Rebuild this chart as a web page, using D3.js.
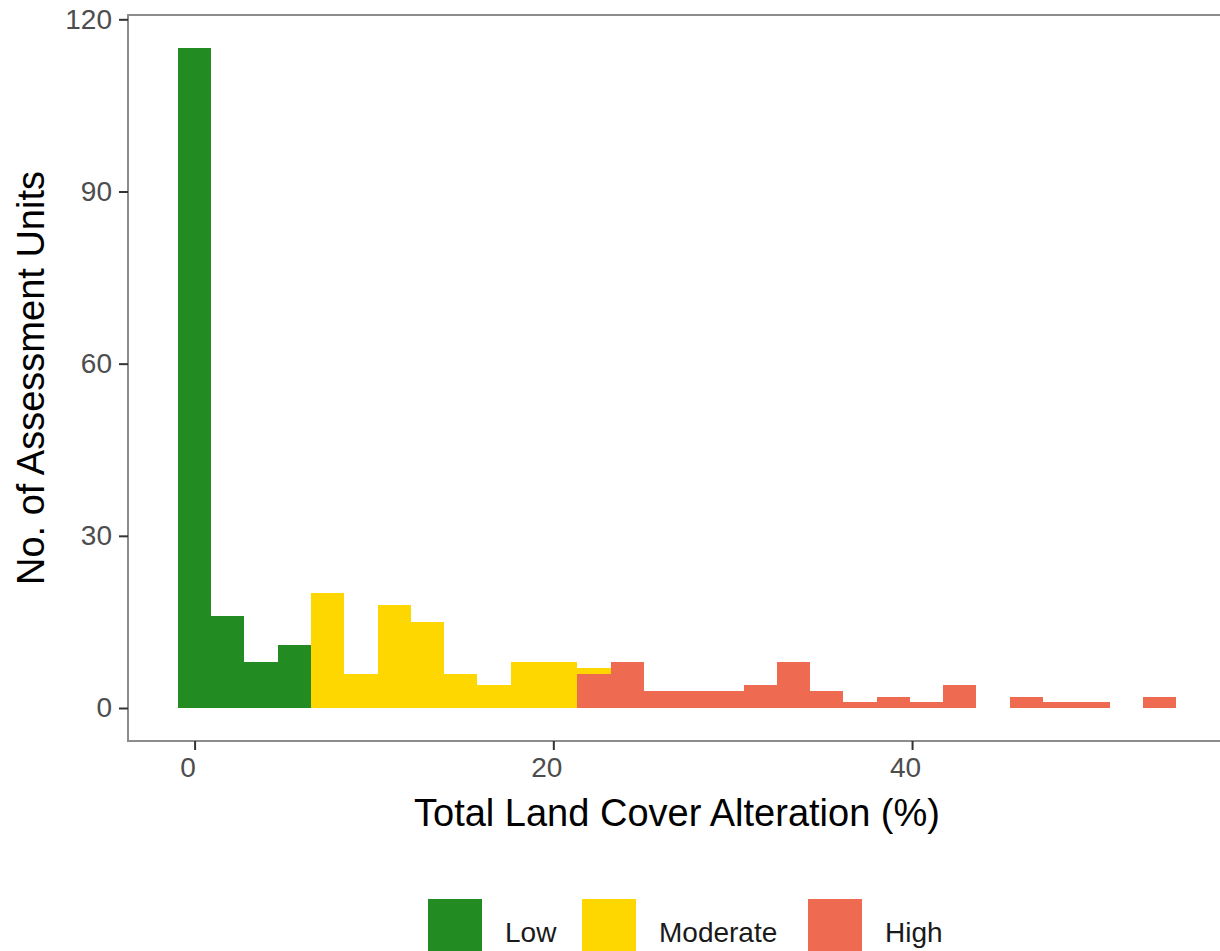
<!DOCTYPE html>
<html>
<head>
<meta charset="utf-8">
<script src="https://cdn.jsdelivr.net/npm/d3@7"></script>
<style>
  html, body { margin: 0; padding: 0; background: #fff; }
  svg { display: block; font-family: "Liberation Sans", Arial, Helvetica, sans-serif; }
</style>
</head>
<body>
<svg id="chart" width="1220" height="951"></svg>
<script>
// ---- data ----
const binEdges = [-0.93, 0.93, 2.78, 4.64, 6.49, 8.35, 10.20, 12.06, 13.91, 15.77,
                  17.62, 19.48, 21.33, 23.19, 25.04, 26.90, 28.75, 30.61, 32.46, 34.32,
                  36.17, 38.03, 39.88, 41.74, 43.59, 45.45, 47.30, 49.16, 51.01, 52.87, 54.72];
const lowCounts      = [115, 16, 8, 11, 0, 0, 0, 0, 0, 0, 0, 0, 0, 0, 0, 0, 0, 0, 0, 0, 0, 0, 0, 0, 0, 0, 0, 0, 0, 0];
const moderateCounts = [0, 0, 0, 0, 20, 6, 18, 15, 6, 4, 8, 8, 1, 0, 0, 0, 0, 0, 0, 0, 0, 0, 0, 0, 0, 0, 0, 0, 0, 0];
const highCounts     = [0, 0, 0, 0, 0, 0, 0, 0, 0, 0, 0, 0, 6, 8, 3, 3, 3, 4, 8, 3, 1, 2, 1, 4, 0, 2, 1, 1, 0, 2];
const categories = ["Low", "Moderate", "High"];
const categoryColors = ["#228B22", "#FFD700", "#EE6A50"];
const xTicks = [0, 20, 40];
const yTicks = [0, 30, 60, 90, 120];
const xTitle = "Total Land Cover Alteration (%)";
const yTitle = "No. of Assessment Units";

// ---- build table ----
const rows = binEdges.slice(0, -1).map((x0, i) => ({
  x0: x0, x1: binEdges[i + 1],
  Low: lowCounts[i], Moderate: moderateCounts[i], High: highCounts[i]
}));
const stackKeys = ["High", "Moderate", "Low"]; // High at the bottom, Low on top
const stacked = d3.stack().keys(stackKeys)(rows);
const color = d3.scaleOrdinal().domain(categories).range(categoryColors);

// ---- layout ----
const svg = d3.select("#chart");
const panel = { left: 128, top: 15, right: 1226, bottom: 741 };

const xMin = binEdges[0], xMax = binEdges[binEdges.length - 1];
const xPad = (xMax - xMin) * 0.05;
const x = d3.scaleLinear().domain([xMin - xPad, xMax + xPad]).range([panel.left, panel.right]);

const yMax = d3.max(rows, d => d.Low + d.Moderate + d.High);
const yPad = yMax * 0.05;
const y = d3.scaleLinear().domain([-yPad, yMax + yPad]).range([panel.bottom, panel.top]);

// bars
svg.append("g").selectAll("g")
  .data(stacked).join("g")
  .attr("fill", s => color(s.key))
  .selectAll("rect")
  .data(s => s.filter(d => d[1] - d[0] > 0))
  .join("rect")
  .attr("x", d => x(d.data.x0))
  .attr("width", d => x(d.data.x1) - x(d.data.x0))
  .attr("y", d => y(d[1]))
  .attr("height", d => y(d[0]) - y(d[1]))
  .attr("shape-rendering", "crispEdges");

// panel border
svg.append("rect")
  .attr("x", panel.left).attr("y", panel.top)
  .attr("width", panel.right - panel.left).attr("height", panel.bottom - panel.top)
  .attr("fill", "none").attr("stroke", "#8c8c8c").attr("stroke-width", 2);

// axes
const xAxis = d3.axisBottom(x).tickValues(xTicks).tickSize(9).tickPadding(7).tickFormat(d3.format("d"));
const gx = svg.append("g").attr("transform", `translate(0,${panel.bottom})`).call(xAxis);
gx.select(".domain").remove();
gx.selectAll(".tick line").attr("stroke", "#333").attr("stroke-width", 2);
gx.selectAll(".tick text").attr("fill", "#4d4d4d").attr("font-size", 28)
  .attr("font-family", "Liberation Sans, Arial, sans-serif").attr("dx", -7);

const yAxis = d3.axisLeft(y).tickValues(yTicks).tickSize(9).tickPadding(7).tickFormat(d3.format("d"));
const gy = svg.append("g").attr("transform", `translate(${panel.left},0)`).call(yAxis);
gy.select(".domain").remove();
gy.selectAll(".tick line").attr("stroke", "#333").attr("stroke-width", 2);
gy.selectAll(".tick text").attr("fill", "#4d4d4d").attr("font-size", 28)
  .attr("font-family", "Liberation Sans, Arial, sans-serif");

// titles
svg.append("text")
  .attr("x", (panel.left + panel.right) / 2).attr("y", 826)
  .attr("text-anchor", "middle").attr("font-size", 38).attr("fill", "#000")
  .text(xTitle);

svg.append("text")
  .attr("transform", `translate(44,${(panel.top + panel.bottom) / 2}) rotate(-90)`)
  .attr("text-anchor", "middle").attr("font-size", 38).attr("fill", "#000")
  .text(yTitle);

// legend
const legendKeyX = [428, 582, 808];
const legend = svg.append("g");
categories.forEach((c, i) => {
  legend.append("rect")
    .attr("x", legendKeyX[i]).attr("y", 899)
    .attr("width", 54).attr("height", 56)
    .attr("fill", color(c));
  legend.append("text")
    .attr("x", legendKeyX[i] + 77).attr("y", 942)
    .attr("font-size", 28).attr("fill", "#1a1a1a")
    .text(c);
});
</script>
</body>
</html>
